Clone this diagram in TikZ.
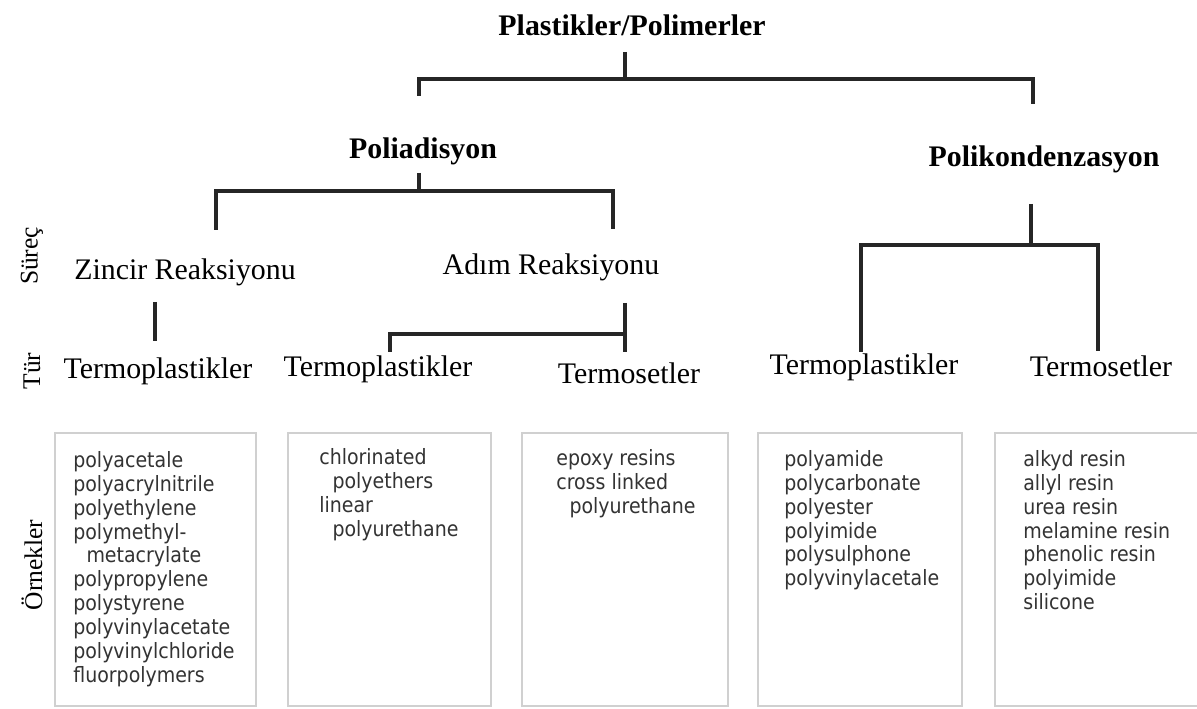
\documentclass[tikz,border=0pt]{standalone}
\usepackage{fontspec}
\setmainfont{Liberation Serif}
\newfontfamily\boxfont{DejaVu Sans Condensed}
\definecolor{treeline}{HTML}{262626}
\definecolor{boxline}{HTML}{D0D0D0}
\definecolor{boxtext}{HTML}{333333}
\begin{document}
\begin{tikzpicture}[x=0.02cm,y=-0.02cm,
  head/.style={font=\fontsize{17}{20}\selectfont\bfseries, inner sep=0pt, anchor=base},
  lab/.style={font=\fontsize{17}{20}\selectfont, inner sep=0pt, anchor=base},
  side/.style={font=\fontsize{14.5}{17}\selectfont, inner sep=0pt, rotate=90},
  tree/.style={draw=treeline, line width=2.2pt},
  exbox/.style={draw=boxline, line width=1.1pt},
  extext/.style={font=\boxfont\fontsize{12}{13.6}\selectfont, text=boxtext, inner sep=0pt, anchor=north west, align=left}]
\useasboundingbox (0,0) rectangle (1197,709);
\fill[white] (0,0) rectangle (1197,709);

% headings
\node[head] (root) at (632,36) {Plastikler/Polimerler};
\node[head] (poliad) at (423,159) {Poliadisyon};
\node[head] (polikon) at (1044,167) {Polikondenzasyon};
\node[lab] (zincir) at (185,280) {Zincir Reaksiyonu};
\node[lab] (adim) at (551,275) {Adım Reaksiyonu};
\node[lab] (t1) at (158,379) {Termoplastikler};
\node[lab] (t2) at (378,377) {Termoplastikler};
\node[lab] (s3) at (629,384) {Termosetler};
\node[lab] (t4) at (864,375) {Termoplastikler};
\node[lab] (s5) at (1101,377) {Termosetler};

% side labels
\node[side] (surec) at (32,256) {Süreç};
\node[side] (tur) at (32,371) {Tür};
\node[side] (ornek) at (32,565) {Örnekler};

% tree coordinates
\coordinate (r0) at (625,52);
\coordinate (r1) at (625,79);
\coordinate (rl) at (419,79);
\coordinate (rr) at (1033,79);
\coordinate (rlb) at (419,96);
\coordinate (rrb) at (1033,104);

\coordinate (p0) at (419,173);
\coordinate (p1) at (419,191);
\coordinate (pl) at (216,191);
\coordinate (pr) at (613,191);
\coordinate (plb) at (216,230);
\coordinate (prb) at (613,229);

\coordinate (z0) at (155,302);
\coordinate (z1) at (155,341);

\coordinate (a0) at (625,303);
\coordinate (a1) at (625,334);
\coordinate (al) at (390,334);
\coordinate (alb) at (390,352);
\coordinate (arb) at (625,352);

\coordinate (k0) at (1031,204);
\coordinate (k1) at (1031,245);
\coordinate (kl) at (861,245);
\coordinate (kr) at (1098,245);
\coordinate (klb) at (861,352);
\coordinate (krb) at (1098,351);

\draw[tree] (r0) -- (r1);
\draw[tree] (rlb) -- (rl) -- (rr) -- (rrb);
\draw[tree] (p0) -- (p1);
\draw[tree] (plb) -- (pl) -- (pr) -- (prb);
\draw[tree] (z0) -- (z1);
\draw[tree] (a0) -- (a1);
\draw[tree] (alb) -- (al) -- (a1) -- (arb);
\draw[tree] (k0) -- (k1);
\draw[tree] (klb) -- (kl) -- (kr) -- (krb);

% example boxes
\draw[exbox] (55,433) rectangle (256,706);
\draw[exbox] (288,433) rectangle (491,706);
\draw[exbox] (522,433) rectangle (728,706);
\draw[exbox] (758,433) rectangle (962,706);
\draw[exbox] (995,433) rectangle (1210,706);

\node[extext] (e1) at (73,451) {polyacetale\\polyacrylnitrile\\polyethylene\\polymethyl-\\\hspace*{7.5pt}metacrylate\\polypropylene\\polystyrene\\polyvinylacetate\\polyvinylchloride\\fluorpolymers};
\node[extext] (e2) at (319,448) {chlorinated\\\hspace*{7.5pt}polyethers\\linear\\\hspace*{7.5pt}polyurethane};
\node[extext] (e3) at (556,449) {epoxy resins\\cross linked\\\hspace*{7.5pt}polyurethane};
\node[extext] (e4) at (784,450) {polyamide\\polycarbonate\\polyester\\polyimide\\polysulphone\\polyvinylacetale};
\node[extext] (e5) at (1023,450) {alkyd resin\\allyl resin\\urea resin\\melamine resin\\phenolic resin\\polyimide\\silicone};
\end{tikzpicture}
\end{document}
